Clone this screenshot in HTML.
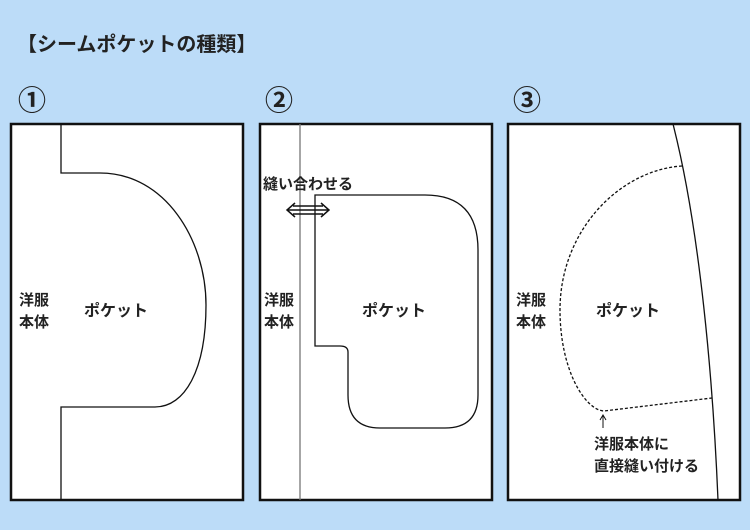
<!DOCTYPE html>
<html><head><meta charset="utf-8"><style>
body{margin:0;width:750px;height:530px;background:#bcdcf8;overflow:hidden;font-family:"Liberation Sans","Noto Sans CJK JP",sans-serif;}
</style></head><body>
<svg width="750" height="530" xmlns="http://www.w3.org/2000/svg" style="position:absolute;left:0;top:0">
<g font-family="Liberation Sans, Noto Sans CJK JP, sans-serif" font-weight="bold" fill="#222">
<text x="17" y="51" font-size="20">【シームポケットの種類】</text>
<text x="18" y="110" font-size="28" font-family="Noto Sans CJK JP, sans-serif">①</text>
<text x="265" y="110" font-size="28" font-family="Noto Sans CJK JP, sans-serif">②</text>
<text x="513" y="110" font-size="28" font-family="Noto Sans CJK JP, sans-serif">③</text>
</g>
<g fill="#fff" stroke="#111" stroke-width="2.5">
<rect x="11" y="124" width="232" height="376"/>
<rect x="260" y="124" width="232" height="376"/>
<rect x="508" y="124" width="232" height="376"/>
</g>
<g fill="none" stroke="#111" stroke-width="1.3">
<path d="M61,124 V173 H100 C165,173 206,240 206,305 C206,370 185,407 155,407 H61 V500"/>
<line x1="300" y1="124" x2="300" y2="500" stroke="#777"/>
<path d="M315,195 H425 Q478,195 478,250 V395 Q478,428 445,428 H380 Q348,428 348,395 V352 Q348,346 340,346 H315 Z"/>
<path d="M288,210 H328 M295,203 L287,210 L295,217 M321,203 L329,210 L321,217 M293,206 H323 M293,214 H323" stroke-width="1.5"/>
<path d="M673,124 C700,230 713,380 718,500"/>
<path d="M682,166 C620,170 560,230 560,310 C560,370 585,410 604,411 L712,398" stroke-dasharray="3,2"/>
<path d="M603,428 V416 M600,420 L603,415 L606,420" stroke-width="1"/>
</g>
<g font-family="Liberation Sans, Noto Sans CJK JP, sans-serif" font-weight="bold" font-size="15" fill="#222">
<text x="19" y="305">洋服</text><text x="19" y="327">本体</text>
<text x="84" y="316" font-size="16">ポケット</text>
<text x="264" y="305">洋服</text><text x="264" y="327">本体</text>
<text x="263" y="189">縫い合わせる</text>
<text x="362" y="316" font-size="16">ポケット</text>
<text x="516" y="305">洋服</text><text x="516" y="327">本体</text>
<text x="596" y="316" font-size="16">ポケット</text>
<text x="594" y="449">洋服本体に</text>
<text x="594" y="471">直接縫い付ける</text>
</g>
</svg>
</body></html>
